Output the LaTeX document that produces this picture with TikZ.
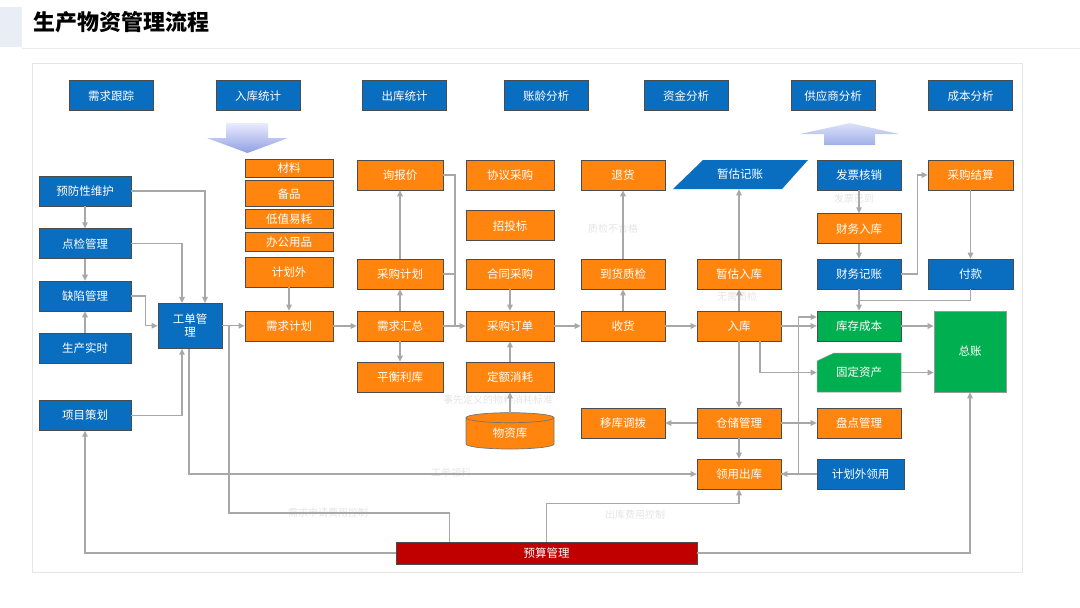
\documentclass[tikz,border=0pt]{standalone}
\usepackage{fontspec}
\setmainfont{Noto Sans CJK SC}
\usetikzlibrary{arrows.meta,positioning}
\definecolor{blueA}{HTML}{0A6EC0}
\definecolor{orangeA}{HTML}{FF850F}
\definecolor{greenA}{HTML}{00B050}
\definecolor{redA}{HTML}{C00000}
\definecolor{lineA}{HTML}{A8A8A8}
\definecolor{noteA}{HTML}{E4E4E4}
\definecolor{barA}{HTML}{E9EEF6}
\begin{document}
\begin{tikzpicture}[
    x=1pt, y=-1pt,
    box/.style={draw=black!70, line width=0.7pt, minimum height=30, inner sep=0pt,
        text=white, font=\fontsize{11.5}{13}\selectfont},
    bluebox/.style={box, fill=blueA},
    orangebox/.style={box, fill=orangeA},
    greenbox/.style={box, fill=greenA},
    textonly/.style={box, draw=none},
    linkline/.style={draw=lineA, line width=1.2pt},
    flowarrow/.style={linkline, -{Triangle[length=6pt,width=5.5pt]}},
    note/.style={text=noteA, font=\fontsize{10}{12}\selectfont, inner sep=0pt}
]
\useasboundingbox (0,0) rectangle (1080,608);
\fill[barA] (0,7) rectangle (22,47);
\draw[gray!15, line width=1pt] (22,48) -- (1080,48);
\node[anchor=west, inner sep=0pt, font=\bfseries\fontsize{22}{26}\selectfont] (ttl) at (33,22) {生产物资管理流程};
\draw[gray!20, line width=1pt] (32,63) rectangle (1022,572);

% analysis row
\node[bluebox, minimum width=84] (xqgz) at (111,95.7) {需求跟踪};
\node[bluebox, minimum width=84] (rktj) at (258,95.7) {入库统计};
\node[bluebox, minimum width=84] (cktj) at (404.5,95.7) {出库统计};
\node[bluebox, minimum width=84] (zlfx) at (546,95.7) {账龄分析};
\node[bluebox, minimum width=84] (zjfx) at (686,95.7) {资金分析};
\node[bluebox, minimum width=84] (gysfx) at (833,95.7) {供应商分析};
\node[bluebox, minimum width=84] (cbfx) at (970.5,95.7) {成本分析};

\shade[top color=blue!8, bottom color={rgb,255:red,143;green,160;blue,226}]
    (226,123) -- (268,123) -- (268,138) -- (288,138) -- (247.5,153) -- (207,138) -- (226,138) -- cycle;
\shade[top color={rgb,255:red,220;green,226;blue,247}, bottom color={rgb,255:red,160;green,175;blue,232}]
    (850,123) -- (899,134) -- (875,134) -- (875,145) -- (824,145) -- (824,134) -- (800,134) -- cycle;

% maintenance side
\node[bluebox, minimum width=92] (yfwh) at (85,191) {预防性维护};
\node[bluebox, minimum width=92] (djgl) at (85,243.7) {点检管理};
\node[bluebox, minimum width=92] (qxgl) at (85,296) {缺陷管理};
\node[bluebox, minimum width=92] (scss) at (85,348.3) {生产实时};
\node[bluebox, minimum width=92] (xmch) at (85,415.3) {项目策划};
\node[bluebox, minimum width=64, minimum height=45, align=center] (gdgl) at (190,325.8) {工单管\\理};

% demand
\node[orangebox, minimum width=88, minimum height=18] (cl) at (289,168) {材料};
\node[orangebox, minimum width=88, minimum height=26] (bp) at (289,193.7) {备品};
\node[orangebox, minimum width=88, minimum height=19] (dzyh) at (289,219) {低值易耗};
\node[orangebox, minimum width=88, minimum height=19] (bgyp) at (289,241.7) {办公用品};
\node[orangebox, minimum width=88] (jhw) at (289,272) {计划外};
\node[orangebox, minimum width=88] (xqjh) at (289,326) {需求计划};

% purchasing
\node[orangebox, minimum width=86] (xbj) at (400,175) {询报价};
\node[orangebox, minimum width=86] (cgjh) at (400,274) {采购计划};
\node[orangebox, minimum width=86] (xqhz) at (400,326) {需求汇总};
\node[orangebox, minimum width=86] (phlk) at (400,377) {平衡利库};
\node[orangebox, minimum width=88] (xycg) at (510,175) {协议采购};
\node[orangebox, minimum width=88] (ztb) at (510,225.7) {招投标};
\node[orangebox, minimum width=88] (htcg) at (510,274) {合同采购};
\node[orangebox, minimum width=88] (cgdd) at (510,326) {采购订单};
\node[orangebox, minimum width=88] (dexh) at (510,377) {定额消耗};
\filldraw[fill=orangeA, draw=black!55, line width=0.7pt] (466,417.7) -- (466,444)
    arc[start angle=180, end angle=360, x radius=44pt, y radius=5pt] -- (554,417.7)
    arc[start angle=0, end angle=180, x radius=44pt, y radius=5pt] -- cycle;
\draw[black!55, line width=0.7pt] (466,417.7) arc[start angle=180, end angle=360, x radius=44pt, y radius=5pt];
\node[textonly, minimum width=88, minimum height=40] (wzk) at (510,433) {物资库};

% receiving
\node[orangebox, minimum width=84] (th) at (623,175) {退货};
\node[orangebox, minimum width=84] (dhzj) at (623,274) {到货质检};
\node[orangebox, minimum width=84] (sh) at (623,326) {收货};
\node[orangebox, minimum width=84] (ykdb) at (623,423) {移库调拨};
\fill[blueA] (703,160) -- (808,160) -- (782,189) -- (673,189) -- cycle;
\node[textonly, minimum width=84, minimum height=29] (zgjz) at (740,174.5) {暂估记账};
\node[orangebox, minimum width=84] (zgrk) at (739,274) {暂估入库};
\node[orangebox, minimum width=84] (rk) at (739,326) {入库};
\node[orangebox, minimum width=84] (ccgl) at (739,423) {仓储管理};
\node[orangebox, minimum width=84] (lyck) at (739,474) {领用出库};

% finance
\node[bluebox, minimum width=84] (fphx) at (859,175) {发票核销};
\node[orangebox, minimum width=84] (cwrk) at (859,228.7) {财务入库};
\node[bluebox, minimum width=84] (cwjz) at (859,274) {财务记账};
\node[greenbox, minimum width=84] (kccb) at (859,326) {库存成本};
\filldraw[fill=greenA, draw=black!40, line width=0.5pt] (834,353) -- (901,353) -- (901,392) -- (817,392) -- (817,361) -- cycle;
\node[textonly, minimum width=84, minimum height=39] (gdzc) at (859,372.5) {固定资产};
\node[orangebox, minimum width=84] (pdgl) at (859,423) {盘点管理};
\node[bluebox, minimum width=87] (jhwly) at (860.5,474) {计划外领用};
\node[orangebox, minimum width=85] (cgjs) at (970.5,175) {采购结算};
\node[bluebox, minimum width=85] (fk) at (970.5,274) {付款};
\node[greenbox, draw=black!40, minimum width=72, minimum height=81] (zz) at (970,351.5) {总账};
\node[box, fill=redA, minimum width=301, minimum height=22] (ysgl) at (546.5,553) {预算管理};

% faint labels
\node[note] (zjbhg) at (613,229) {质检不合格};
\node[note] (fpyd) at (854,199) {发票已到};
\node[note] (wxzj) at (737,297) {无需质检};
\node[note] (dedy) at (498,400) {事先定义的物料消耗标准};
\node[note] (gdll) at (451,473) {工单领料};
\node[note] (xqsq) at (328,513) {需求申请费用控制};
\node[note] (ckfy) at (635,515) {出库费用控制};

% connectors
\draw[flowarrow] (yfwh) -- (djgl);
\draw[flowarrow] (djgl) -- (qxgl);
\draw[flowarrow] (scss) -- (qxgl);
\draw[flowarrow] (yfwh.east) -| ([xshift=15pt]gdgl.north);
\draw[flowarrow] (djgl.east) -| ([xshift=-8pt]gdgl.north);
\draw[flowarrow] (qxgl.east) -- ++(14,0) |- (gdgl.west);
\draw[flowarrow] (xmch.east) -| ([xshift=-8pt]gdgl.south);
\draw[flowarrow] (gdgl.east) -- (gdgl.east -| xqjh.west);
\draw[flowarrow] (jhw) -- (xqjh);
\draw[flowarrow] (xqjh) -- (xqhz);
\draw[flowarrow] (xqhz) -- (cgjh);
\draw[flowarrow] (cgjh) -- (xbj);
\draw[flowarrow] (xqhz) -- (phlk);
\draw[flowarrow] (xqhz) -- (cgdd);
\coordinate (jn1) at (455,326);
\draw[linkline] (xbj.east) -| (jn1);
\draw[linkline] (cgjh.east) -- (cgjh.east -| jn1);
\draw[flowarrow] (htcg) -- (cgdd);
\draw[flowarrow] (dexh) -- (cgdd);
\draw[flowarrow] (wzk) -- (dexh);
\draw[flowarrow] (cgdd) -- (sh);
\draw[flowarrow] (sh) -- (dhzj);
\draw[flowarrow] (dhzj) -- (th);
\draw[flowarrow] (sh) -- (rk);
\draw[flowarrow] (rk) -- (zgrk);
\draw[flowarrow] (zgrk.north) -- (zgrk.north |- zgjz.south);
\draw[flowarrow] (fphx) -- (cwrk);
\draw[flowarrow] (cwrk) -- (cwjz);
\draw[flowarrow] (cwjz.east) -- ++(16,0) |- (cgjs.west);
\draw[flowarrow] (cgjs) -- (fk);
\draw[flowarrow] (cwjz) -- (kccb);
\draw[linkline] (fk.south) -- ++(0,11) -| (cwjz.south);
\draw[flowarrow] (rk) -- (kccb);
\draw[flowarrow] (lyck.east) -- ++(17,0) |- ([yshift=9pt]kccb.west);
\draw[flowarrow] ([xshift=21pt]rk.south) |- (gdzc.west);
\draw[flowarrow] (kccb.east) -- (kccb.east -| zz.west);
\draw[flowarrow] (gdzc.east) -- (gdzc.east -| zz.west);
\draw[flowarrow] (rk) -- (ccgl);
\draw[flowarrow] (ccgl) -- (ykdb);
\draw[flowarrow] (ccgl) -- (pdgl);
\draw[flowarrow] (ccgl) -- (lyck);
\draw[flowarrow] (jhwly) -- (lyck);
\draw[flowarrow] ([xshift=-1pt]gdgl.south) |- (lyck.west);
\coordinate (jn2) at (229,513);
\draw[linkline] ([xshift=-97pt]ysgl.north) |- (jn2) -- (jn2 |- gdgl.east);
\draw[flowarrow] (ysgl.north) -- ++(0,-38) -| (lyck.south);
\draw[flowarrow] (ysgl.west) -| (xmch.south);
\draw[flowarrow] (ysgl.east) -| (zz.south);
\end{tikzpicture}
\end{document}
